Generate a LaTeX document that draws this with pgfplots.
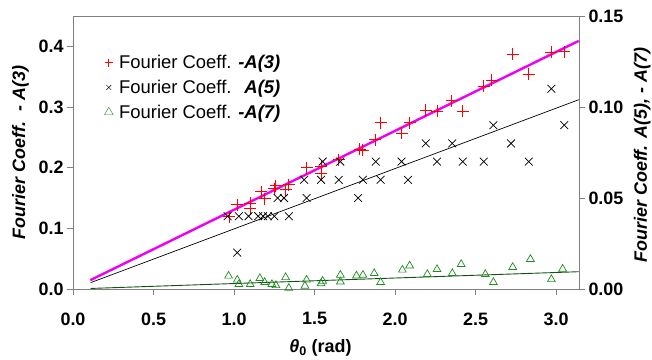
\documentclass[border=0pt]{standalone}
\usepackage{fontspec}
\setmainfont{Liberation Sans}
\usepackage{pgfplots}
\pgfplotsset{compat=1.18}
\definecolor{mygreen}{RGB}{30,140,30}
\definecolor{dkgreen}{RGB}{20,80,20}
\definecolor{mymag}{RGB}{240,0,240}
\begin{document}
\begin{tikzpicture}
\begin{axis}[
  scale only axis, width=506bp, height=273bp,
  xmin=0, xmax=3.1416, ymin=0, ymax=0.45,
  xtick={0,0.5,1,1.5,2,2.5,3}, ytick={0,0.1,0.2,0.3,0.4},
  xtick pos=bottom, ytick pos=left, tick align=outside,
  major tick length=6bp,
  axis line style={gray}, tick style={gray, line width=0.6pt},
  /pgf/number format/assume math mode=true,
  ticklabel style={font=\fontsize{18}{21}\selectfont\bfseries},
  xticklabel style={/pgf/number format/fixed, /pgf/number format/fixed zerofill, /pgf/number format/precision=1, yshift=-14bp},
  yticklabel style={/pgf/number format/fixed, /pgf/number format/fixed zerofill, /pgf/number format/precision=1},
  xlabel={{\bfseries\itshape θ}\textsubscript{\bfseries 0}\textbf{ (rad)}},
  xlabel style={at={(axis description cs:0.489,-0.216)}, anchor=center, font=\fontsize{18}{21}\selectfont},
  ylabel={\textbf{\textit{Fourier Coeff.\ \ - A(3)}}},
  ylabel style={at={(axis description cs:-0.104,0.5)}, anchor=center, font=\fontsize{18}{21}\selectfont},
  legend style={draw=none, fill=none, at={(0.056,0.872)}, anchor=north west,
    font=\fontsize{18.5}{21}\selectfont, row sep=6bp},
  legend cell align=left,
]
\addlegendimage{only marks, mark=+, red, mark size=4bp, mark options={line width=0.8pt}}
\addlegendentry{\hspace{4bp}Fourier Coeff. \textbf{\textit{-A(3)}}}
\addlegendimage{only marks, mark=x, black, mark size=3.5bp}
\addlegendentry{\hspace{4bp}Fourier Coeff. \textbf{\textit{\hphantom{-}A(5)}}}
\addlegendimage{only marks, mark=triangle, mygreen, mark size=5bp}
\addlegendentry{\hspace{4bp}Fourier Coeff. \textbf{\textit{-A(7)}}}
\addplot[only marks, mark=+, red, mark size=6bp, mark options={line width=0.9pt}, forget plot] coordinates {
(0.97,0.119)(1.02,0.139)(1.10,0.141)(1.10,0.132)(1.17,0.160)(1.19,0.149)
(1.25,0.165)(1.26,0.170)(1.32,0.164)(1.34,0.172)(1.45,0.200)(1.54,0.202)
(1.54,0.190)(1.65,0.213)(1.78,0.230)(1.80,0.229)(1.875,0.246)(1.91,0.274)
(2.04,0.257)(2.09,0.274)(2.19,0.295)(2.26,0.293)(2.35,0.310)(2.42,0.293)
(2.55,0.334)(2.60,0.344)(2.73,0.387)(2.83,0.354)(2.97,0.390)(3.05,0.391)
};
\addplot[mymag, line width=2.4bp, forget plot] coordinates {(0.107,0.0145)(3.14,0.409)};
\end{axis}
\begin{axis}[
  scale only axis, width=506bp, height=273bp,
  xmin=0, xmax=3.1416, ymin=0, ymax=0.15,
  axis x line=none, axis y line*=right,
  ytick={0,0.05,0.1,0.15}, tick align=outside, major tick length=6bp,
  axis line style={gray}, tick style={gray, line width=0.6pt},
  /pgf/number format/assume math mode=true,
  ticklabel style={font=\fontsize{18}{21}\selectfont\bfseries},
  yticklabel style={/pgf/number format/fixed, /pgf/number format/fixed zerofill, /pgf/number format/precision=2},
  ylabel={\textbf{\textit{Fourier Coeff. A(5), - A(7)}}},
  ylabel style={at={(axis description cs:1.125,0.49)}, anchor=center, rotate=0, font=\fontsize{18}{21}\selectfont},
]
\addplot[only marks, mark=x, black, mark size=5.5bp, mark options={line width=0.75pt}] coordinates {
(0.96,0.040)(1.02,0.020)(1.03,0.040)(1.09,0.040)(1.15,0.040)(1.18,0.040)
(1.21,0.040)(1.25,0.040)(1.27,0.050)(1.31,0.050)(1.34,0.040)(1.435,0.060)
(1.45,0.050)(1.54,0.060)(1.55,0.070)(1.65,0.060)(1.66,0.070)(1.77,0.050)
(1.80,0.060)(1.88,0.070)(1.91,0.060)(2.04,0.070)(2.08,0.060)(2.19,0.080)
(2.26,0.070)(2.355,0.080)(2.42,0.070)(2.55,0.070)(2.61,0.090)(2.72,0.080)
(2.83,0.070)(2.97,0.110)(3.05,0.090)
};
\addplot[black, line width=0.7pt] coordinates {(0.11,0.0035)(3.14,0.104)};
\addplot[only marks, mark=triangle, mygreen, mark size=4.5bp, mark options={line width=0.7pt}] coordinates {
(0.966,0.0072)(1.02,0.0050)(1.03,0.0026)(1.10,0.0026)(1.16,0.0059)(1.19,0.0037)
(1.235,0.0026)(1.26,0.0020)(1.32,0.0064)(1.34,0.0005)(1.44,0.0017)(1.45,0.0050)
(1.54,0.0030)(1.55,0.0044)(1.66,0.0077)(1.66,0.0040)(1.76,0.0073)(1.80,0.0077)
(1.87,0.0086)(1.91,0.0037)(2.045,0.0105)(2.09,0.0128)(2.20,0.0081)(2.26,0.0108)
(2.355,0.0086)(2.41,0.0136)(2.56,0.0081)(2.61,0.0037)(2.73,0.0120)(2.84,0.0164)
(2.97,0.0053)(3.04,0.0110)
};
\addplot[dkgreen, line width=0.9pt] coordinates {(0.11,0.0003)(3.14,0.0095)};
\end{axis}
\pgfresetboundingbox
\path (current axis.south west) ++(-73bp,-71bp) rectangle ++(652bp,360bp);
\end{tikzpicture}
\end{document}
